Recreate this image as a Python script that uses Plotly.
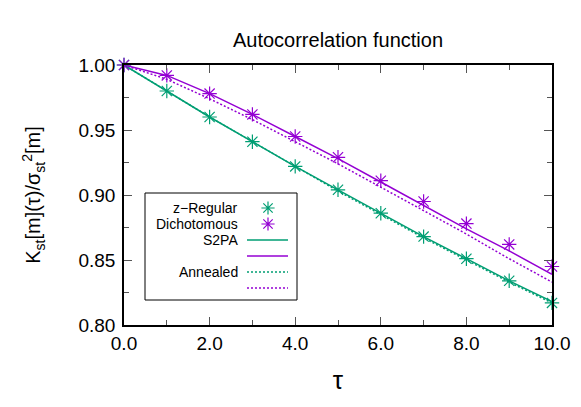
import plotly.graph_objects as go

tau = [0, 1, 2, 3, 4, 5, 6, 7, 8, 9, 10]
zreg_sim = [1.0, 0.980, 0.960, 0.941, 0.922, 0.904, 0.886, 0.868, 0.851, 0.834, 0.817]
dich_sim = [1.0, 0.992, 0.978, 0.962, 0.945, 0.929, 0.911, 0.895, 0.878, 0.862, 0.845]
zreg_s2pa = [1.0, 0.980, 0.960, 0.941, 0.922, 0.904, 0.886, 0.868, 0.851, 0.834, 0.818]
dich_s2pa = [1.0, 0.992, 0.978, 0.962, 0.945, 0.928, 0.910, 0.892, 0.874, 0.857, 0.839]
zreg_ann = [1.0, 0.980, 0.960, 0.941, 0.922, 0.903, 0.885, 0.867, 0.850, 0.833, 0.817]
dich_ann = [1.0, 0.989, 0.974, 0.958, 0.941, 0.924, 0.906, 0.888, 0.870, 0.851, 0.833]
legend_labels = ["z\u2212Regular", "Dichotomous", "S2PA", "", "Annealed", ""]

GREEN = "#009e73"
PURPLE = "#9400d3"
FONT = "Liberation Sans, Arial, sans-serif"
DOT = "2px,2px"

# page offset (body margin) compensation
OFF = 8
W, H = 581 - OFF, 407 - OFF
L, R, T, B = 124, 552, 65, 325  # plot area in page pixels

def mk(color):
    return dict(symbol="asterisk-open", size=12, color=color, line=dict(color=color, width=1.2))

fig = go.Figure()
fig.add_trace(go.Scatter(x=tau, y=zreg_s2pa, mode="lines", line=dict(color=GREEN, width=1.5)))
fig.add_trace(go.Scatter(x=tau, y=dich_s2pa, mode="lines", line=dict(color=PURPLE, width=1.5)))
fig.add_trace(go.Scatter(x=tau, y=zreg_ann, mode="lines", line=dict(color=GREEN, width=1.5, dash=DOT)))
fig.add_trace(go.Scatter(x=tau, y=dich_ann, mode="lines", line=dict(color=PURPLE, width=1.5, dash=DOT)))
fig.add_trace(go.Scatter(x=tau, y=zreg_sim, mode="markers", marker=mk(GREEN), cliponaxis=False))
fig.add_trace(go.Scatter(x=tau, y=dich_sim, mode="markers", marker=mk(PURPLE), cliponaxis=False))

# --- gnuplot-style key (paper coordinates) ---
def px(xp):
    return (xp - L) / (R - L)
def py(yp):
    return (B - yp) / (B - T)

fig.add_shape(type="rect", xref="paper", yref="paper",
              x0=px(145), x1=px(297), y0=py(300), y1=py(193),
              line=dict(color="black", width=1), fillcolor="rgba(0,0,0,0)", layer="above")
rows = [208, 224, 240, 256, 272, 288]
for lab, yy in zip(legend_labels, rows):
    if lab:
        fig.add_annotation(xref="paper", yref="paper", x=px(240), y=py(yy), text=lab,
                           showarrow=False, xanchor="right", yanchor="middle",
                           font=dict(family=FONT, size=14, color="black"))
line_specs = [(rows[2], GREEN, "solid"), (rows[3], PURPLE, "solid"),
              (rows[4], GREEN, DOT), (rows[5], PURPLE, DOT)]
for yy, c, d in line_specs:
    fig.add_shape(type="line", xref="paper", yref="paper", x0=px(247), x1=px(288),
                  y0=py(yy), y1=py(yy), line=dict(color=c, width=1.5, dash=d), layer="above")
fig.add_trace(go.Scatter(x=[px(268), px(268)], y=[py(rows[0]), py(rows[1])], xaxis="x2", yaxis="y2",
                         mode="markers", cliponaxis=False,
                         marker=dict(symbol="asterisk-open", size=11, color=[GREEN, PURPLE],
                                     line=dict(color=[GREEN, PURPLE], width=1.2))))

fig.update_layout(
    width=W, height=H,
    margin=dict(l=L - OFF, r=W + OFF - R, t=T - OFF, b=H + OFF - B, autoexpand=False),
    plot_bgcolor="white", paper_bgcolor="white",
    showlegend=False,
    font=dict(family=FONT, color="black"),
    title=dict(text="Autocorrelation function", x=0.5, xref="paper", xanchor="center",
               y=1 - (40 - OFF) / H, yanchor="middle", font=dict(size=20, family=FONT)),
    xaxis=dict(range=[0, 10], tickvals=[0, 2, 4, 6, 8, 10], tickformat=".1f",
               ticks="inside", ticklen=8, tickcolor="#555", tickwidth=1,
               minor=dict(ticks="inside", dtick=1, ticklen=5, tickcolor="#555"),
               showline=True, linecolor="black", linewidth=1.5, mirror="allticks",
               showgrid=False, zeroline=False,
               tickfont=dict(size=19, family=FONT),
               title=dict(text="\u03c4", font=dict(size=26, family=FONT), standoff=18)),
    yaxis=dict(range=[0.80, 1.00], tickvals=[0.80, 0.85, 0.90, 0.95, 1.00], tickformat=".2f",
               ticks="inside", ticklen=8, tickcolor="#555", tickwidth=1,
               minor=dict(ticks="inside", dtick=0.025, ticklen=5, tickcolor="#555"),
               showline=True, linecolor="black", linewidth=1.5, mirror="allticks",
               showgrid=False, zeroline=False, ticklabelstandoff=3,
               tickfont=dict(size=19, family=FONT),
               title=dict(text="K<sub>st</sub>[m](\u03c4)/\u03c3<sub>st</sub><sup>2</sup>[m]",
                          font=dict(size=20, family=FONT), standoff=32)),
    xaxis2=dict(range=[0, 1], overlaying="x", visible=False, fixedrange=True),
    yaxis2=dict(range=[0, 1], overlaying="y", visible=False, fixedrange=True),
)

fig.write_html("out.html")
